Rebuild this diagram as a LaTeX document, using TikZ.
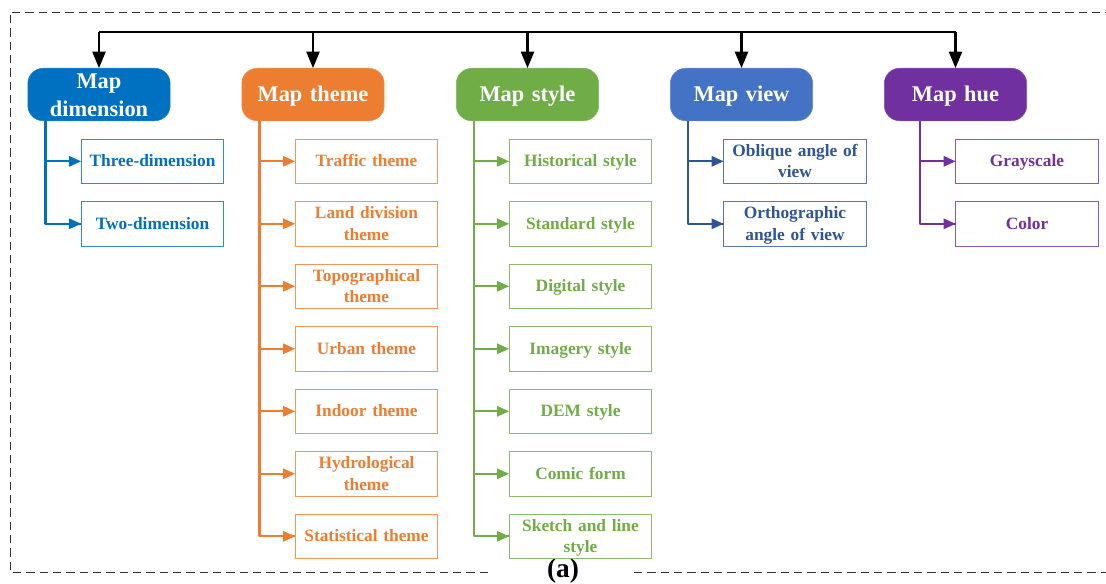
\documentclass[tikz,border=0pt]{standalone}
\usepackage{fontspec}
\setmainfont[WordSpace=0.75]{Liberation Serif}
\usetikzlibrary{arrows.meta}
\definecolor{cblue}{HTML}{0070C0}
\definecolor{corange}{HTML}{ED7D31}
\definecolor{cgreen}{HTML}{70AD47}
\definecolor{cview}{HTML}{4472C4}
\definecolor{cviewdark}{HTML}{2F5597}
\definecolor{cpurple}{HTML}{7030A0}
\newcommand{\toprule}[1]{\rule{0pt}{#1\baselineskip}}
\newcommand{\botrule}[1]{\rule[-#1\baselineskip]{0pt}{#1\baselineskip}}
\tikzset{
  head/.style={fill=#1,draw=#1!85,line width=0.4pt,rounded corners=11.5pt,minimum width=106.8pt,minimum height=39.4pt,inner sep=0pt,outer sep=0pt,
    text=white,font=\bfseries\fontsize{16.8}{20.8}\selectfont,align=center,text width=104pt,execute at begin node={\toprule{.70}},execute at end node={\botrule{.15}}},
  child/.style={draw=#1!80,line width=0.6pt,fill=white,minimum width=107pt,minimum height=33.3pt,inner sep=0pt,outer sep=0pt,
    text=#1,font=\bfseries\fontsize{13}{16.2}\selectfont,align=center,text width=105pt,execute at begin node={\toprule{.76}},execute at end node={\botrule{.24}}},
  branch/.style={draw=#1,line width=1.7pt,line join=round,-{Triangle[length=9pt,width=7.6pt]}},
  trunk/.style={draw=#1,line width=1.7pt},
  busline/.style={draw=black,line width=2.1pt,line join=miter},
  busarrow/.style={draw=black,line width=2.1pt,-{Triangle[length=12.4pt,width=9.6pt]}},
  frame/.style={draw=black!80,line width=0.7pt,dash pattern=on 6.2pt off 3.8pt},
}
\begin{document}
\begin{tikzpicture}[x=0.75pt,y=-0.75pt]
\useasboundingbox (0,0) rectangle (1106,583);
% frame
\coordinate (fa) at (488,572);
\coordinate (fb) at (10,572);
\coordinate (fc) at (10,12);
\coordinate (fd) at (1106,12);
\coordinate (fe) at (634,572);
\coordinate (ff) at (1106,572);
\draw[frame] (fa) -- (fb) -- (fc) -- (fd);
\draw[frame] (fe) -- (ff);
\node[font=\bfseries\fontsize{20.5}{20.5}\selectfont,inner sep=0pt] (lab) at (563,570.5) {(a)};
% headers
\node[head=cblue] (h1) at (99,94.5) {Map\\dimension};
\node[head=corange] (h2) at (313,94.5) {Map theme};
\node[head=cgreen] (h3) at (527.5,94.5) {Map style};
\node[head=cview] (h4) at (741.5,94.5) {Map view};
\node[head=cpurple] (h5) at (955.5,94.5) {Map hue};
% bus
\coordinate (b1) at (99,32);
\coordinate (b2) at (313,32);
\coordinate (b3) at (527.5,32);
\coordinate (b4) at (741.5,32);
\coordinate (b5) at (955.5,32);
\draw[busline] (b1) -- (b5);
\foreach \i in {1,...,5} {\draw[busarrow] (b\i) -- (h\i.north);}
% column 1
\node[child=cblue] (a1) at (152.5,161.3) {Three-dimension};
\node[child=cblue] (a2) at (152.5,223.8) {Two-dimension};
% column 2
\node[child=corange] (o1) at (366.5,161.3) {Traffic theme};
\node[child=corange] (o2) at (366.5,223.8) {Land division\\theme};
\node[child=corange] (o3) at (366.5,286.3) {Topographical\\theme};
\node[child=corange] (o4) at (366.5,348.8) {Urban theme};
\node[child=corange] (o5) at (366.5,411.3) {Indoor theme};
\node[child=corange] (o6) at (366.5,473.8) {Hydrological\\theme};
\node[child=corange] (o7) at (366.5,536.3) {Statistical theme};
% column 3
\node[child=cgreen] (g1) at (580.5,161.3) {Historical style};
\node[child=cgreen] (g2) at (580.5,223.8) {Standard style};
\node[child=cgreen] (g3) at (580.5,286.3) {Digital style};
\node[child=cgreen] (g4) at (580.5,348.8) {Imagery style};
\node[child=cgreen] (g5) at (580.5,411.3) {DEM style};
\node[child=cgreen] (g6) at (580.5,473.8) {Comic form};
\node[child=cgreen] (g7) at (580.5,536.3) {Sketch and line\\style};
% column 4
\node[child=cviewdark] (v1) at (795,161.3) {Oblique angle of\\view};
\node[child=cviewdark] (v2) at (795,223.8) {Orthographic\\angle of view};
% column 5
\node[child=cpurple] (p1) at (1027,161.3) {Grayscale};
\node[child=cpurple] (p2) at (1027,223.8) {Color};
% trunks
\coordinate (t1) at (45.5,121);
\coordinate (t2) at (259.5,121);
\coordinate (t3) at (474,121);
\coordinate (t4) at (688,121);
\coordinate (t5) at (920,121);
\draw[trunk=cblue,line join=round] (t1) |- (a2.west);
\draw[branch=cblue] (t1 |- a1.west) -- (a1.west);
\draw[branch=cblue] (t1 |- a2.west) -- (a2.west);
\draw[trunk=corange,line join=round] (t2) |- (o7.west);
\foreach \i in {1,...,7} {\draw[branch=corange] (t2 |- o\i.west) -- (o\i.west);}
\draw[trunk=cgreen,line join=round] (t3) |- (g7.west);
\foreach \i in {1,...,7} {\draw[branch=cgreen] (t3 |- g\i.west) -- (g\i.west);}
\draw[trunk=cviewdark,line join=round] (t4) |- (v2.west);
\draw[branch=cviewdark] (t4 |- v1.west) -- (v1.west);
\draw[branch=cviewdark] (t4 |- v2.west) -- (v2.west);
\draw[trunk=cpurple,line join=round] (t5) |- (p2.west);
\draw[branch=cpurple] (t5 |- p1.west) -- (p1.west);
\draw[branch=cpurple] (t5 |- p2.west) -- (p2.west);
\end{tikzpicture}
\end{document}
